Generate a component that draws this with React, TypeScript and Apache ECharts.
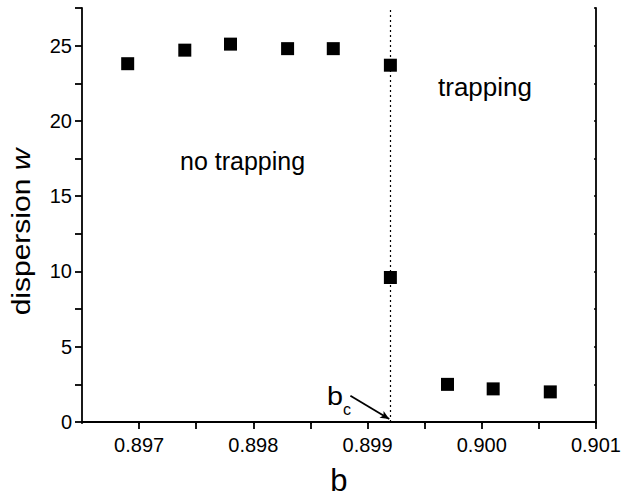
import React, { useEffect, useRef } from "react";
import * as echarts from "echarts";

const bValues = [0.8969, 0.8974, 0.8978, 0.8983, 0.8987, 0.8992, 0.8992, 0.8997, 0.9001, 0.9006];
const wValues = [23.8, 24.7, 25.1, 24.8, 24.8, 23.7, 9.6, 2.5, 2.2, 2.0];
const bCritical = 0.8992;
const xTicks = [0.897, 0.898, 0.899, 0.9, 0.901];
const yTicks = [0, 5, 10, 15, 20, 25];
const arrowStart = [0.89885, 1.75];
const arrowEnd = [0.89919, 0.2];

const FONT = "Liberation Sans, Arial, sans-serif";

export default function App() {
  const ref = useRef<HTMLDivElement>(null);
  useEffect(() => {
    if (!ref.current) return;
    const chart = echarts.init(ref.current, null, { renderer: "svg" });
    const axisLine = { show: true, lineStyle: { color: "#000", width: 1.8 } };
    chart.setOption({
      animation: false,
      backgroundColor: "#fff",
      grid: { left: 82, right: 25, top: 8, bottom: 77 },
      xAxis: [
        {
          type: "value",
          min: 0.8965,
          max: 0.901,
          interval: 0.0005,
          position: "bottom",
          name: "b",
          nameLocation: "middle",
          nameGap: 43,
          nameTextStyle: { fontFamily: FONT, fontSize: 31, color: "#000" },
          axisLine,
          axisTick: { show: true, inside: false, length: 7, lineStyle: { color: "#000", width: 1.8 } },
          splitLine: { show: false },
          axisLabel: {
            fontFamily: FONT,
            fontSize: 20,
            color: "#000",
            margin: 13,
            showMinLabel: false,
            formatter: (v: number) => {
              const m = xTicks.find((t) => Math.abs(t - v) < 1e-7);
              return m !== undefined ? m.toFixed(3) : "";
            },
          },
        },
        {
          type: "value",
          min: 0.8965,
          max: 0.901,
          interval: 0.0005,
          position: "top",
          axisLine,
          axisTick: { show: true, inside: true, length: 2, lineStyle: { color: "#000", width: 1.5 } },
          axisLabel: { show: false },
          splitLine: { show: false },
        },
      ],
      yAxis: [
        {
          type: "value",
          min: 0,
          max: 27.5,
          interval: 2.5,
          position: "left",
          axisLine,
          axisTick: { show: true, inside: false, length: 7, lineStyle: { color: "#000", width: 1.8 } },
          splitLine: { show: false },
          axisLabel: {
            fontFamily: FONT,
            fontSize: 20,
            color: "#000",
            margin: 10,
            formatter: (v: number) => {
              const m = yTicks.find((t) => Math.abs(t - v) < 1e-6);
              return m !== undefined ? String(m) : "";
            },
          },
        },
        {
          type: "value",
          min: 0,
          max: 27.5,
          interval: 2.5,
          position: "right",
          axisLine,
          axisTick: { show: true, inside: true, length: 2, lineStyle: { color: "#000", width: 1.5 } },
          axisLabel: { show: false },
          splitLine: { show: false },
        },
      ],
      series: [
        {
          type: "scatter",
          xAxisIndex: 0,
          yAxisIndex: 0,
          symbol: "rect",
          symbolSize: 13,
          itemStyle: { color: "#000", opacity: 1 },
          data: bValues.map((b, i) => [b, wValues[i]]),
          z: 5,
          markLine: {
            silent: true,
            animation: false,
            label: { show: false },
            lineStyle: { type: [2, 3], color: "#000", width: 1.2 },
            data: [
              [
                { coord: [bCritical, 0], symbol: "none" },
                { coord: [bCritical, 27.5], symbol: "none" },
              ],
              [
                { coord: arrowStart, symbol: "none", lineStyle: { type: "solid", width: 1.8, color: "#000" } },
                { coord: arrowEnd, symbol: "arrow", symbolSize: [6, 9] },
              ],
            ],
          },
        },
      ],
      graphic: [
        {
          type: "text",
          x: 21,
          y: 232,
          rotation: Math.PI / 2,
          scaleX: 1.2,
          style: {
            text: "dispersion {i|w}",
            font: `25px ${FONT}`,
            fill: "#000",
            textAlign: "center",
            textVerticalAlign: "middle",
            rich: { i: { fontFamily: FONT, fontSize: 25, fontStyle: "italic", fill: "#000" } },
          },
        },
        {
          type: "text",
          x: 180,
          y: 173,
          style: { text: "no trapping", font: `25px ${FONT}`, fill: "#000", textVerticalAlign: "bottom" },
        },
        {
          type: "text",
          x: 438,
          y: 100,
          style: { text: "trapping", font: `26px ${FONT}`, fill: "#000", textVerticalAlign: "bottom" },
        },
        {
          type: "text",
          x: 327,
          y: 384,
          scaleX: 1.15,
          style: { text: "b", font: `25px ${FONT}`, fill: "#000", textVerticalAlign: "top" },
        },
        {
          type: "text",
          x: 343,
          y: 401,
          style: { text: "c", font: `16px ${FONT}`, fill: "#000", textVerticalAlign: "top" },
        },
      ],
    });
    return () => chart.dispose();
  }, []);
  return (
    <div
      ref={ref}
      style={{ position: "absolute", left: 0, top: 0, width: 624, height: 501 }}
    />
  );
}
